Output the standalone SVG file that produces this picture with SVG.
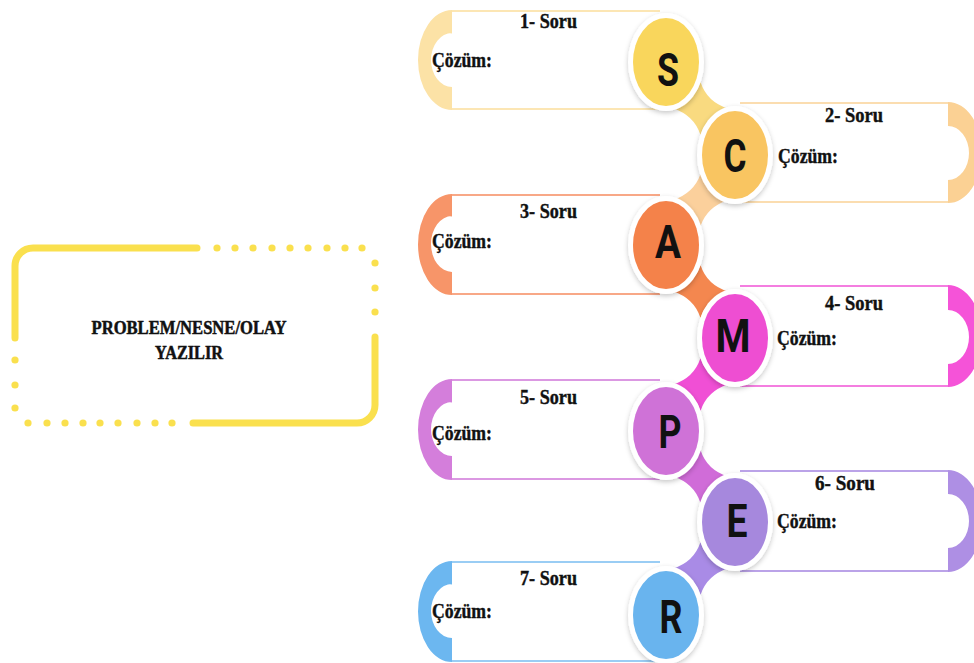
<svg xmlns="http://www.w3.org/2000/svg" width="974" height="663" viewBox="0 0 974 663">
<defs>
<filter id="sh" x="-30%" y="-30%" width="160%" height="160%">
<feDropShadow dx="0" dy="2" stdDeviation="2.5" flood-color="#000" flood-opacity="0.22"/>
</filter>
<style>
.box{fill:none;stroke:#FAE04E;stroke-width:7;stroke-linecap:round}
.dot{fill:#FAE04E}
.title{font-family:"Liberation Serif",serif;font-weight:700;font-size:18px;fill:#111;stroke:#111;stroke-width:0.5}
.soru{font-family:"Liberation Serif",serif;font-weight:700;font-size:20px;fill:#111;stroke:#111;stroke-width:0.4}
.coz{font-family:"Liberation Serif",serif;font-weight:700;font-size:20px;fill:#111;stroke:#111;stroke-width:0.4}
.let{font-family:Roboto,"Liberation Sans",sans-serif;font-weight:700;font-size:46px;fill:#111;text-anchor:middle}
.ring{fill:#fff;filter:url(#sh)}
.line{fill:none;stroke-width:2}
</style>
</defs>
<rect width="974" height="663" fill="#fff"/>

<g id="main-box">
<path class="box" d="M197,248 H33 A18,18 0 0 0 15,266 V338"/>
<path class="box" d="M193,423 H357 A18,18 0 0 0 375,405 V337"/>
<g class="dot">
<circle cx="217" cy="248" r="3.6"/><circle cx="235" cy="248" r="3.6"/><circle cx="253" cy="248" r="3.6"/><circle cx="272" cy="248" r="3.6"/><circle cx="290" cy="248" r="3.6"/><circle cx="308" cy="248" r="3.6"/><circle cx="327" cy="248" r="3.6"/><circle cx="345" cy="248" r="3.6"/><circle cx="362" cy="248" r="3.6"/>
<circle cx="375" cy="263" r="3.6"/><circle cx="375" cy="288" r="3.6"/><circle cx="375" cy="312" r="3.6"/>
<circle cx="15" cy="360" r="3.6"/><circle cx="15" cy="385" r="3.6"/><circle cx="15" cy="408" r="3.6"/>
<circle cx="28" cy="423" r="3.6"/><circle cx="47" cy="423" r="3.6"/><circle cx="65" cy="423" r="3.6"/><circle cx="83" cy="423" r="3.6"/><circle cx="100" cy="423" r="3.6"/><circle cx="118" cy="423" r="3.6"/><circle cx="137" cy="423" r="3.6"/><circle cx="155" cy="423" r="3.6"/><circle cx="172" cy="423" r="3.6"/>
</g>
<text class="title" x="189" y="334" text-anchor="middle" textLength="195" lengthAdjust="spacingAndGlyphs">PROBLEM/NESNE/OLAY</text>
<text class="title" x="189" y="359" text-anchor="middle" textLength="68" lengthAdjust="spacingAndGlyphs">YAZILIR</text>
</g>

<g id="row1">
<path fill="#FCE2A6" fill-rule="evenodd" d="M452,10 A34,50 0 0 0 452,110 Z M452,33 A21,27 0 0 0 452,87 Z"/>
<path class="line" stroke="#FCE6B4" d="M452,11 H660 M452,109 H660"/>
<text class="soru" x="520" y="28" textLength="57" lengthAdjust="spacingAndGlyphs">1- Soru</text>
<text class="coz" x="432" y="67" textLength="60" lengthAdjust="spacingAndGlyphs">Çözüm:</text>
</g>
<g id="row2">
<path fill="#FBD194" fill-rule="evenodd" d="M948,102 A34,50.5 0 0 1 948,203 Z M948,126 A21,27 0 0 1 948,180 Z"/>
<path class="line" stroke="#FBDDB0" d="M740,103 H948 M740,202 H948"/>
<text class="soru" x="825" y="122" textLength="58" lengthAdjust="spacingAndGlyphs">2- Soru</text>
<text class="coz" x="778" y="163" textLength="60" lengthAdjust="spacingAndGlyphs">Çözüm:</text>
</g>
<g id="row3">
<path fill="#F79569" fill-rule="evenodd" d="M452,194 A34,50.5 0 0 0 452,295 Z M452,216 A21,28 0 0 0 452,272 Z"/>
<path class="line" stroke="#F8A887" d="M452,195 H660 M452,294 H660"/>
<text class="soru" x="520" y="218" textLength="57" lengthAdjust="spacingAndGlyphs">3- Soru</text>
<text class="coz" x="432" y="248" textLength="60" lengthAdjust="spacingAndGlyphs">Çözüm:</text>
</g>
<g id="row4">
<path fill="#F553D8" fill-rule="evenodd" d="M948,285 A34,51 0 0 1 948,387 Z M948,310 A21,27 0 0 1 948,364 Z"/>
<path class="line" stroke="#F47EE0" d="M740,286 H948 M740,386 H948"/>
<text class="soru" x="825" y="310" textLength="58" lengthAdjust="spacingAndGlyphs">4- Soru</text>
<text class="coz" x="777" y="345" textLength="60" lengthAdjust="spacingAndGlyphs">Çözüm:</text>
</g>
<g id="row5">
<path fill="#D47EDB" fill-rule="evenodd" d="M452,379 A34,50.5 0 0 0 452,480 Z M452,402 A21,27 0 0 0 452,456 Z"/>
<path class="line" stroke="#DB98E2" d="M452,380 H660 M452,479 H660"/>
<text class="soru" x="520" y="404" textLength="57" lengthAdjust="spacingAndGlyphs">5- Soru</text>
<text class="coz" x="432" y="440" textLength="60" lengthAdjust="spacingAndGlyphs">Çözüm:</text>
</g>
<g id="row6">
<path fill="#AE8FE4" fill-rule="evenodd" d="M948,470 A34,51 0 0 1 948,572 Z M948,494 A21,27 0 0 1 948,548 Z"/>
<path class="line" stroke="#BBA3E8" d="M740,471 H948 M740,571 H948"/>
<text class="soru" x="815" y="490" textLength="60" lengthAdjust="spacingAndGlyphs">6- Soru</text>
<text class="coz" x="777" y="528" textLength="60" lengthAdjust="spacingAndGlyphs">Çözüm:</text>
</g>
<g id="row7">
<path fill="#6CB7F0" fill-rule="evenodd" d="M452,561 A34,50.5 0 0 0 452,662 Z M452,584 A21,27 0 0 0 452,638 Z"/>
<path class="line" stroke="#9ACDF4" d="M452,562 H660 M452,661 H660"/>
<text class="soru" x="520" y="585" textLength="57" lengthAdjust="spacingAndGlyphs">7- Soru</text>
<text class="coz" x="432" y="618" textLength="60" lengthAdjust="spacingAndGlyphs">Çözüm:</text>
</g>

<g id="connectors">
<path fill="#F9DA80" d="M700.5,82 Q707,102 728,108.5 Q707,115 700.5,135 Q694,115 673,108.5 Q694,102 700.5,82 Z"/>
<path fill="#FBD09C" d="M700.5,174 Q707,193 728,200 Q707,207 700.5,226 Q694,207 673,200 Q694,193 700.5,174 Z"/>
<path fill="#F4874F" d="M700.5,265 Q707,285 728,291.5 Q707,298 700.5,318 Q694,298 673,291.5 Q694,285 700.5,265 Z"/>
<path fill="#F04FD5" d="M700.5,358 Q707,378 728,384.5 Q707,391 700.5,411 Q694,391 673,384.5 Q694,378 700.5,358 Z"/>
<path fill="#D06CD8" d="M700.5,450 Q707,470 728,476.5 Q707,483 700.5,503 Q694,483 673,476.5 Q694,470 700.5,450 Z"/>
<path fill="#A98BE6" d="M700.5,542 Q707,562 728,568.5 Q707,575 700.5,595 Q694,575 673,568.5 Q694,562 700.5,542 Z"/>
</g>

<g id="node-S">
<ellipse class="ring" cx="666" cy="62" rx="38" ry="49"/>
<ellipse cx="666" cy="62" rx="33" ry="44" fill="#F9D65C"/>
<text class="let" x="668" y="86" textLength="22" lengthAdjust="spacingAndGlyphs">S</text>
</g>
<g id="node-C">
<ellipse class="ring" cx="735" cy="155" rx="38" ry="49"/>
<ellipse cx="735" cy="155" rx="33" ry="44" fill="#F9C561"/>
<text class="let" x="735" y="172" textLength="23" lengthAdjust="spacingAndGlyphs">C</text>
</g>
<g id="node-A">
<ellipse class="ring" cx="666" cy="245" rx="38" ry="49"/>
<ellipse cx="666" cy="245" rx="33" ry="44" fill="#F4824A"/>
<text class="let" x="668" y="258" textLength="26" lengthAdjust="spacingAndGlyphs">A</text>
</g>
<g id="node-M">
<ellipse class="ring" cx="735" cy="338" rx="38" ry="49"/>
<ellipse cx="735" cy="338" rx="33" ry="44" fill="#EE4ED2"/>
<text class="let" x="733" y="352" textLength="35" lengthAdjust="spacingAndGlyphs">M</text>
</g>
<g id="node-P">
<ellipse class="ring" cx="666" cy="431" rx="38" ry="49"/>
<ellipse cx="666" cy="431" rx="33" ry="44" fill="#CF72D7"/>
<text class="let" x="670" y="448" textLength="23" lengthAdjust="spacingAndGlyphs">P</text>
</g>
<g id="node-E">
<ellipse class="ring" cx="735" cy="522" rx="38" ry="49"/>
<ellipse cx="735" cy="522" rx="33" ry="44" fill="#A688DD"/>
<text class="let" x="737" y="537" textLength="21" lengthAdjust="spacingAndGlyphs">E</text>
</g>
<g id="node-R">
<ellipse class="ring" cx="666" cy="615" rx="38" ry="49"/>
<ellipse cx="666" cy="615" rx="33" ry="44" fill="#69B4EE"/>
<text class="let" x="671" y="633" textLength="23" lengthAdjust="spacingAndGlyphs">R</text>
</g>
</svg>
